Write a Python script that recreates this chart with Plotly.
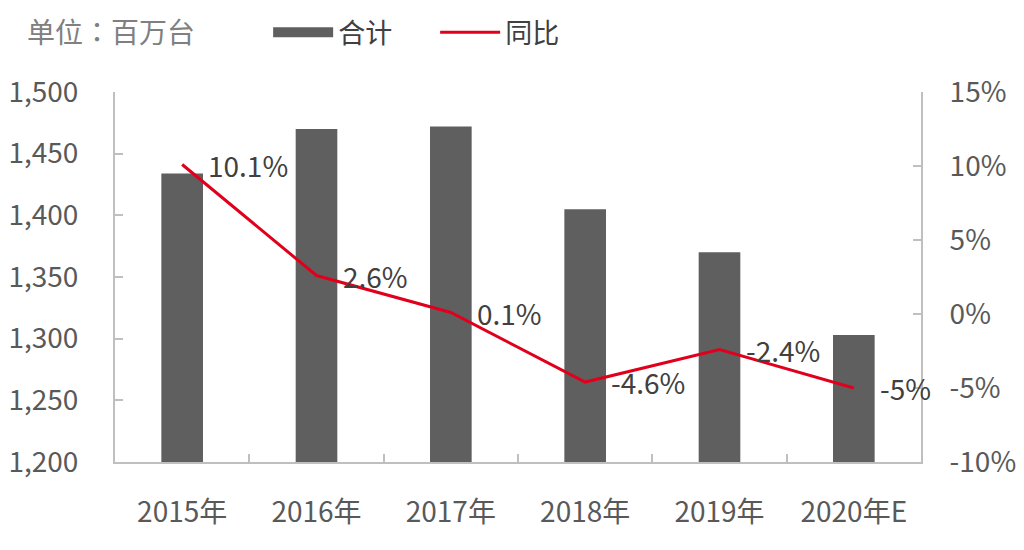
import plotly.graph_objects as go

# --- DATA ---
years = ["2015年", "2016年", "2017年", "2018年", "2019年", "2020年E"]
total = [1434, 1470, 1472, 1405, 1370, 1303]          # 百万台
yoy = [10.1, 2.6, 0.1, -4.6, -2.4, -5.0]               # %
yoy_labels = ["10.1%", "2.6%", "0.1%", "-4.6%", "-2.4%", "-5%"]

left_ticks = [1200, 1250, 1300, 1350, 1400, 1450, 1500]
right_ticks = [-10, -5, 0, 5, 10, 15]
right_ticktext = ["-10%", "-5%", "0%", "5%", "10%", "15%"]

BAR_COLOR = "#5f5f5f"
LINE_COLOR = "#e0001b"
AXIS_COLOR = "#bfbfbf"
FONT = "Noto Sans CJK SC"

fig = go.Figure()

fig.add_trace(go.Bar(
    x=years, y=total, name="合计",
    marker=dict(color=BAR_COLOR, line=dict(width=0)),
    showlegend=False,
))

# legend stand-in for the bars (wide rectangle swatch)
fig.add_trace(go.Scatter(
    x=[None], y=[None], mode="lines", name="合计",
    line=dict(color=BAR_COLOR, width=16),
))

fig.add_trace(go.Scatter(
    x=years, y=yoy, name="同比", yaxis="y2",
    mode="lines", line=dict(color=LINE_COLOR, width=3),
))

# data labels to the right of each point
annotations = []
for yr, v, lab in zip(years, yoy, yoy_labels):
    annotations.append(dict(
        x=yr, y=v, xref="x", yref="y2", text=lab, showarrow=False,
        xanchor="left", yanchor="middle", xshift=24,
        font=dict(size=28, color="#404040", family=FONT),
    ))

annotations.append(dict(
    text="单位：百万台", xref="paper", yref="paper", x=-0.112, y=1.166,
    xanchor="left", yanchor="middle", showarrow=False,
    font=dict(size=28, color="#808080", family="Noto Sans CJK TC"),
))

axis_common = dict(
    showgrid=False, zeroline=False, automargin=False,
    showline=True, linecolor=AXIS_COLOR, linewidth=2,
    ticks="inside", ticklen=8, tickcolor=AXIS_COLOR, tickwidth=2,
    tickfont=dict(size=28, color="#595959", family=FONT),
)

# page adds an 8px body margin, so the figure is 16px smaller than the window
fig.update_layout(
    width=1008, height=534,
    margin=dict(l=107, r=95, t=84, b=80, autoexpand=False),
    paper_bgcolor="white", plot_bgcolor="white",
    font=dict(family=FONT, color="#595959"),
    bargap=0.69,
    xaxis=dict(**axis_common, tickson="boundaries", ticklabelstandoff=24,
               range=[-0.5, len(years) - 0.5]),
    yaxis=dict(**axis_common, range=[1200, 1500], tickvals=left_ticks,
               tickformat=",", ticklabelstandoff=29),
    yaxis2=dict(**axis_common, range=[-10, 15], tickvals=right_ticks,
                ticktext=right_ticktext, overlaying="y", side="right",
                ticklabelstandoff=21),
    legend=dict(orientation="h", x=0.19, xanchor="left", y=1.16, yanchor="middle",
                font=dict(size=27, color="#404040", family=FONT),
                itemwidth=60, entrywidth=92, bgcolor="rgba(0,0,0,0)"),
    annotations=annotations,
)

fig.write_html("out.html")
